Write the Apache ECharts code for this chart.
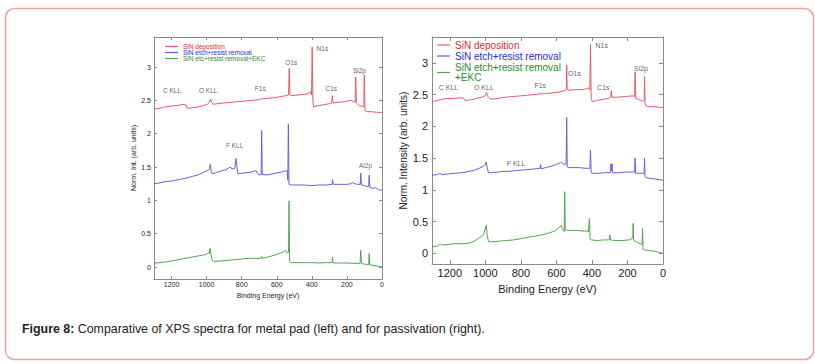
<!DOCTYPE html>
<html>
<head>
<meta charset="utf-8">
<script src="https://cdn.jsdelivr.net/npm/echarts@6/dist/echarts.min.js"></script>
<style>
html,body{margin:0;padding:0;background:#fff;}
#c{width:815px;height:364px;}
</style>
</head>
<body>
<div id="c"></div>
<script>
// ---------- DATA ----------
const xTicks = [0, 200, 400, 600, 800, 1000, 1200];
const legendLeft = ['SiN deposition', 'SiN etch+resist removal', 'SiN etc+resist removal+EKC'];
const legendRight = ['SiN deposition', 'SiN etch+resist removal', 'SiN etch+resist removal\n+EKC'];

// Left panel (metal pad): [binding energy eV, normalised intensity]
const lRed = [[1300,2.37],[1270,2.38],[1240,2.40],[1210,2.41],[1180,2.42],[1150,2.43],[1125,2.44],[1117,2.43],[1110,2.38],[1080,2.39],[1050,2.40],[1020,2.42],[995,2.44],[985,2.47],[978,2.52],[972,2.47],[962,2.44],[940,2.45],[900,2.46],[860,2.47],[820,2.48],[780,2.49],[740,2.50],[700,2.51],[690,2.52],[686,2.53],[682,2.52],[650,2.53],[610,2.54],[570,2.56],[545,2.57],[533,2.58],[529,2.98],[525,2.58],[515,2.57],[480,2.58],[440,2.59],[420,2.60],[410,2.63],[402,2.58],[398,3.30],[394,2.50],[390,2.40],[370,2.42],[340,2.43],[300,2.45],[287,2.46],[283,2.57],[279,2.46],[250,2.47],[210,2.48],[180,2.50],[165,2.49],[153,2.47],[150,2.85],[146,2.46],[130,2.42],[112,2.41],[104,2.40],[101,2.88],[97,2.36],[90,2.33],[60,2.33],[30,2.32],[0,2.32]];
const lBlue = [[1300,1.25],[1270,1.26],[1240,1.28],[1200,1.29],[1160,1.31],[1120,1.33],[1080,1.36],[1040,1.39],[1010,1.43],[990,1.45],[983,1.48],[979,1.54],[975,1.45],[968,1.40],[950,1.41],[920,1.44],[890,1.46],[865,1.50],[855,1.47],[840,1.48],[832,1.63],[828,1.52],[822,1.40],[790,1.41],[750,1.42],[725,1.44],[718,1.45],[710,1.40],[695,1.38],[689,1.39],[686,2.05],[683,1.39],[660,1.38],[620,1.40],[580,1.42],[555,1.44],[540,1.44],[537,1.30],[534,2.14],[530,1.24],[520,1.23],[480,1.23],[440,1.23],[400,1.22],[360,1.23],[320,1.23],[285,1.24],[282,1.31],[278,1.24],[240,1.24],[200,1.24],[175,1.25],[170,1.27],[160,1.25],[140,1.24],[124,1.24],[121,1.41],[117,1.23],[100,1.22],[90,1.21],[76,1.21],[73,1.38],[69,1.19],[50,1.18],[35,1.19],[20,1.16],[0,1.15]];
const lGreen = [[1300,0.055],[1260,0.07],[1220,0.08],[1180,0.10],[1140,0.12],[1100,0.14],[1060,0.16],[1020,0.18],[1000,0.19],[990,0.22],[985,0.20],[980,0.28],[976,0.20],[968,0.10],[958,0.085],[920,0.09],[880,0.10],[840,0.11],[800,0.12],[760,0.13],[720,0.13],[690,0.13],[686,0.16],[682,0.13],[650,0.15],[610,0.18],[580,0.21],[560,0.23],[555,0.25],[548,0.24],[540,0.21],[533,0.22],[530,0.99],[527,0.08],[522,0.065],[480,0.065],[440,0.065],[400,0.065],[360,0.06],[320,0.065],[285,0.065],[282,0.15],[279,0.06],[240,0.06],[200,0.06],[160,0.055],[125,0.055],[121,0.25],[117,0.05],[90,0.04],[76,0.04],[73,0.20],[69,0.03],[40,0.02],[20,0.01],[0,0.0]];

// Right panel (passivation)
const rRed = [[1300,2.39],[1270,2.41],[1240,2.43],[1210,2.44],[1180,2.44],[1150,2.45],[1130,2.45],[1120,2.44],[1114,2.41],[1080,2.42],[1050,2.44],[1020,2.46],[1003,2.48],[996,2.51],[993,2.54],[988,2.48],[975,2.44],[965,2.43],[930,2.44],[890,2.46],[850,2.47],[810,2.48],[770,2.49],[730,2.50],[700,2.51],[694,2.53],[690,2.51],[660,2.52],[620,2.53],[590,2.54],[560,2.56],[548,2.57],[544,2.60],[542,2.97],[539,2.58],[530,2.57],[490,2.58],[450,2.58],[425,2.60],[418,2.61],[412,2.57],[408,3.29],[404,2.45],[398,2.39],[370,2.41],[330,2.43],[300,2.45],[294,2.46],[291,2.56],[287,2.46],[260,2.46],[220,2.47],[180,2.48],[165,2.48],[160,2.47],[157,2.86],[153,2.44],[140,2.43],[125,2.41],[110,2.40],[106,2.41],[104,2.79],[101,2.36],[95,2.32],[70,2.31],[40,2.31],[20,2.30],[0,2.30]];
const rBlue = [[1300,1.23],[1270,1.24],[1255,1.26],[1245,1.24],[1210,1.25],[1170,1.26],[1130,1.27],[1090,1.29],[1060,1.31],[1035,1.34],[1010,1.37],[1000,1.40],[995,1.44],[990,1.36],[982,1.27],[960,1.27],[930,1.28],[900,1.29],[870,1.29],[840,1.30],[800,1.31],[760,1.32],[720,1.33],[692,1.34],[689,1.40],[686,1.33],[660,1.35],[630,1.37],[600,1.40],[585,1.42],[575,1.44],[565,1.41],[550,1.40],[545,1.44],[542,2.14],[539,1.36],[530,1.35],[500,1.35],[470,1.35],[440,1.34],[420,1.34],[412,1.33],[408,1.63],[404,1.27],[398,1.26],[360,1.26],[320,1.27],[296,1.27],[293,1.41],[290,1.30],[287,1.41],[284,1.27],[250,1.27],[210,1.28],[175,1.28],[160,1.28],[157,1.50],[154,1.26],[140,1.26],[120,1.26],[106,1.26],[104,1.50],[101,1.21],[95,1.19],[70,1.18],[40,1.17],[20,1.16],[0,1.15]];
const rGreen = [[1300,0.10],[1270,0.11],[1255,0.15],[1245,0.13],[1210,0.14],[1170,0.15],[1130,0.15],[1090,0.16],[1060,0.19],[1035,0.24],[1015,0.28],[1005,0.33],[998,0.42],[994,0.44],[990,0.30],[982,0.18],[960,0.18],[920,0.19],[880,0.20],[840,0.21],[800,0.23],[760,0.25],[720,0.27],[680,0.29],[640,0.32],[610,0.35],[590,0.39],[580,0.42],[575,0.44],[568,0.40],[560,0.36],[556,0.34],[553,0.97],[550,0.37],[540,0.36],[510,0.36],[480,0.36],[450,0.35],[430,0.35],[420,0.34],[414,0.55],[410,0.22],[404,0.21],[370,0.20],[330,0.21],[302,0.21],[299,0.29],[296,0.21],[270,0.20],[230,0.20],[190,0.21],[175,0.23],[170,0.26],[168,0.47],[165,0.20],[150,0.18],[130,0.15],[118,0.14],[115,0.39],[112,0.06],[100,0.05],[70,0.04],[40,0.03],[20,0.01],[0,0.0]];

// Peak annotations [eV, intensity] and their labels
const lAnnoText = ['C KLL', 'O KLL', 'F1s', 'O1s', 'N1s', 'C1s', 'Si2p', 'F KLL', 'Al2p'];
const lAnnoX = [1197, 991, 694, 517, 340, 289, 129, 840, 94];
const lAnnoY = [2.65, 2.65, 2.68, 3.07, 3.28, 2.68, 2.95, 1.83, 1.53];
const rAnnoText = ['C KLL', 'O KLL', 'F1s', 'O1s', 'N1s', 'C1s', 'Si2p', 'F KLL'];
const rAnnoX = [1207, 1008, 691, 498, 345, 336, 124, 827];
const rAnnoY = [2.61, 2.61, 2.64, 2.83, 3.27, 2.61, 2.92, 1.42];

const caption = 'Comparative of XPS spectra for metal pad (left) and for passivation (right).';

// ---------- STYLE ----------
const cRed = '#e85a68', cBlue = '#6262e2', cGreen = '#52a452';
const tRed = '#e62a36', tBlue = '#2a2ae6', tGreen = '#2a8c2a';
const axisCol = '#8a8a8a';
const FF = 'Liberation Sans, Arial, sans-serif';

function anno(xs, ys, ts) {
  return xs.map((x, i) => ({ value: [x, ys[i]], name: ts[i] }));
}
const plain = v => String(v);

function xAx(grid, pos, fs, show, gap, margin, tickLen, nfs) {
  return {
    type: 'value', gridIndex: grid, position: pos, inverse: true,
    min: 0, max: 1300, interval: 200,
    axisLine: { show: true, onZero: false, lineStyle: { color: axisCol, width: 1 } },
    axisTick: { show: true, inside: true, length: tickLen, lineStyle: { color: axisCol } },
    splitLine: { show: false },
    axisLabel: { show: show, fontSize: fs, color: '#222', fontFamily: FF, margin: margin, showMaxLabel: false, formatter: plain },
    name: show ? 'Binding Energy (eV)' : '', nameLocation: 'middle', nameGap: gap,
    nameTextStyle: { fontSize: nfs, color: '#222', fontFamily: FF }
  };
}
function yAx(grid, pos, min, max, fs, show, name, gap, margin, tickLen, nfs) {
  return {
    type: 'value', gridIndex: grid, position: pos, min: min, max: max, splitNumber: 7,
    axisLine: { show: true, onZero: false, lineStyle: { color: axisCol, width: 1 } },
    axisTick: { show: true, inside: true, length: tickLen, lineStyle: { color: axisCol } },
    splitLine: { show: false },
    axisLabel: { show: show, fontSize: fs, color: '#222', fontFamily: FF, margin: margin, showMinLabel: false, showMaxLabel: false, formatter: plain },
    name: show ? name : '', nameLocation: 'middle', nameGap: gap,
    nameTextStyle: { fontSize: nfs, color: '#222', fontFamily: FF }
  };
}
function line(name, data, color, xi, yi) {
  return { type: 'line', name: name, data: data, xAxisIndex: xi, yAxisIndex: yi,
    showSymbol: false, symbol: 'none', color: color,
    lineStyle: { color: color, width: 1 }, silent: true, animation: false };
}
function annoSeries(data, xi, yi, fs) {
  return { type: 'scatter', data: data, xAxisIndex: xi, yAxisIndex: yi, symbolSize: 0,
    silent: true, animation: false,
    label: { show: true, position: 'inside', formatter: p => p.name, fontSize: fs, color: '#333', fontFamily: FF } };
}
function oneLegend(name, color, top) {
  return { left: 437, top: top, padding: 0, orient: 'vertical', itemWidth: 13, itemHeight: 1.2, icon: 'rect',
    selectedMode: false, textStyle: { fontSize: 10, lineHeight: 11, fontFamily: FF },
    data: [{ name: name, textStyle: { color: color } }] };
}

const chart = echarts.init(document.getElementById('c'), null, { renderer: 'svg' });
chart.setOption({
  animation: false,
  backgroundColor: '#fff',
  grid: [
    { left: 154, top: 37, width: 228, height: 242 },
    { left: 432, top: 37, width: 231, height: 227 }
  ],
  xAxis: [
    xAx(0, 'bottom', 7, true, 6, 1.5, 3, 7),
    xAx(0, 'top', 7, false, 0, 0, 3, 7),
    xAx(1, 'bottom', 11, true, 12, 3.5, 4, 11),
    xAx(1, 'top', 11, false, 0, 0, 4, 11)
  ],
  yAxis: [
    yAx(0, 'left', -0.18, 3.45, 7, true, 'Norm. Int. (arb. units)', 10, 3, 3, 7),
    yAx(0, 'right', -0.18, 3.45, 7, false, '', 0, 0, 3, 7),
    yAx(1, 'left', -0.17, 3.41, 11, true, 'Norm. Intensity (arb. units)', 15, 4, 4, 10),
    yAx(1, 'right', -0.17, 3.41, 11, false, '', 0, 0, 4, 10)
  ],
  legend: [
    { left: 160, top: 38, orient: 'vertical', itemGap: -1, itemWidth: 13, itemHeight: 1.2, icon: 'rect',
      textStyle: { fontSize: 6.5, fontFamily: FF }, selectedMode: false,
      data: [
        { name: legendLeft[0], textStyle: { color: tRed } },
        { name: legendLeft[1], textStyle: { color: tBlue } },
        { name: legendLeft[2], textStyle: { color: tGreen } }
      ] },
    oneLegend(legendRight[0], tRed, 39.5),
    oneLegend(legendRight[1], tBlue, 50.5),
    oneLegend(legendRight[2], tGreen, 61.5)
  ],
  series: [
    line(legendLeft[0], lRed, cRed, 0, 0),
    line(legendLeft[1], lBlue, cBlue, 0, 0),
    line(legendLeft[2], lGreen, cGreen, 0, 0),
    line(legendRight[0], rRed, cRed, 2, 2),
    line(legendRight[1], rBlue, cBlue, 2, 2),
    line(legendRight[2], rGreen, cGreen, 2, 2),
    annoSeries(anno(lAnnoX, lAnnoY, lAnnoText), 0, 0, 6.5),
    annoSeries(anno(rAnnoX, rAnnoY, rAnnoText), 2, 2, 7)
  ],
  graphic: [
    { type: 'rect', left: 3, top: 6, shape: { width: 808, height: 351, r: 9 },
      style: { fill: 'none', stroke: '#f2a29e', lineWidth: 1.5 }, silent: true },
    { type: 'text', left: 22, top: 323,
      style: { text: '{b|Figure 8:} ' + caption, font: '12.4px ' + FF, fill: '#222',
        rich: { b: { fontWeight: 'bold', fontSize: 12.4, fontFamily: FF, fill: '#222' } } } }
  ]
});
</script>
</body>
</html>
